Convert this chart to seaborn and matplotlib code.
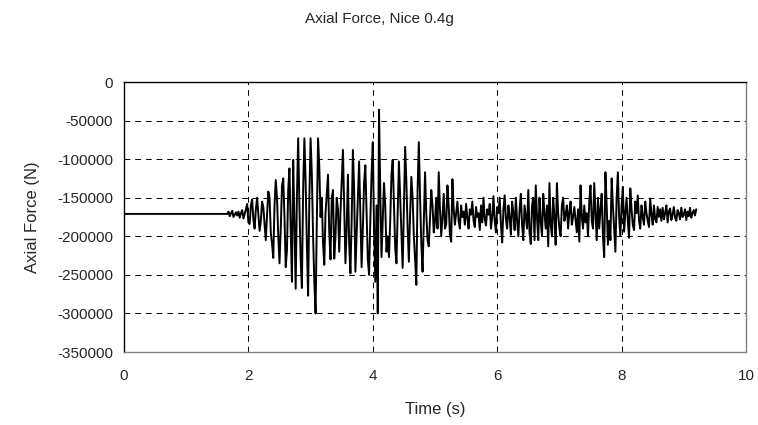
import numpy as np
import pandas as pd
import matplotlib
matplotlib.use("Agg")
import matplotlib.pyplot as plt
import seaborn as sns

# ---- data ----
title = "Axial Force, Nice 0.4g"
x_label = "Time (s)"
y_label = "Axial Force (N)"
x_ticks = [0, 2, 4, 6, 8, 10]
y_ticks = [0, -50000, -100000, -150000, -200000, -250000, -300000, -350000]

# initial static segment (before shaking starts)
static_time = [0.0, 1.66]
static_force_kN = [-171, -171]

# recorded response, sampled every 0.02 s starting at 1.66 s (values in kN)
record_start = 1.66
record_dt = 0.02
force_kN = [
    -171, -168, -174, -170, -167, -175, -172, -169, -173, -168,
    -176, -170, -166, -177, -171, -165, -158, -182, -184, -160,
    -152, -178, -190, -165, -150, -172, -193, -180, -155, -162,
    -185, -205, -172, -142, -150, -195, -210, -228, -160, -127,
    -150, -200, -235, -190, -135, -125, -175, -240, -218, -140,
    -112, -190, -259, -101, -180, -268, -150, -73, -160, -230,
    -267, -140, -73, -130, -210, -277, -150, -73, -120, -200,
    -260, -300, -180, -73, -110, -175, -150, -210, -237, -170,
    -145, -120, -195, -230, -150, -140, -229, -200, -150, -165,
    -220, -170, -130, -88, -160, -235, -190, -120, -210, -248,
    -180, -88, -140, -246, -200, -150, -103, -170, -240, -190,
    -130, -108, -170, -230, -250, -180, -120, -78, -190, -259,
    -160, -300, -36, -140, -227, -180, -131, -160, -220, -200,
    -227, -180, -120, -101, -160, -215, -235, -170, -103, -150,
    -200, -241, -160, -84, -130, -190, -233, -170, -123, -150,
    -200, -230, -263, -140, -78, -150, -210, -246, -180, -117,
    -170, -205, -213, -175, -140, -160, -195, -180, -150, -190,
    -117, -165, -200, -175, -145, -190, -185, -134, -160, -198,
    -207, -126, -165, -185, -170, -155, -180, -190, -160, -175,
    -168, -185, -158, -176, -190, -165, -172, -155, -180, -188,
    -162, -175, -170, -192, -160, -182, -150, -178, -186, -165,
    -172, -158, -190, -175, -148, -180, -195, -162, -170, -150,
    -185, -208, -165, -147, -178, -190, -160, -175, -198, -155,
    -170, -192, -150, -180, -200, -165, -145, -185, -205, -160,
    -175, -190, -140, -195, -210, -160, -150, -205, -134, -175,
    -205, -150, -180, -200, -145, -170, -190, -160, -213, -131,
    -185, -200, -150, -175, -211, -131, -170, -190, -200, -160,
    -150, -180, -172, -160, -190, -168, -155, -185, -175, -162,
    -178, -195, -165, -207, -134, -175, -190, -160, -182, -170,
    -200, -155, -134, -180, -190, -131, -170, -205, -150, -190,
    -165, -145, -200, -227, -117, -160, -211, -180, -205, -125,
    -160, -190, -220, -150, -117, -175, -200, -160, -136, -194,
    -170, -150, -180, -202, -138, -165, -185, -192, -155, -170,
    -147, -180, -190, -160, -175, -185, -155, -170, -180, -188,
    -151, -172, -185, -160, -178, -182, -162, -175, -165, -180,
    -163, -178, -170, -160, -182, -168, -164, -179, -172, -162,
    -176, -180, -166, -170, -178, -163, -175, -172, -165, -179,
    -168, -174, -163, -176, -170, -166, -173, -165,
]

# ---- build table ----
rec_time = record_start + record_dt * np.arange(len(force_kN))
time = np.concatenate([static_time, rec_time])
force = np.concatenate([static_force_kN, force_kN]) * 1000.0
df = pd.DataFrame({"time": time, "force": force})

# ---- plot ----
sns.set_style("white")
plt.rcParams["font.family"] = ["Liberation Sans", "DejaVu Sans"]

fig = plt.figure(figsize=(7.58, 4.25), dpi=100)
ax = fig.add_axes([124 / 758, 1 - 352 / 425, (746 - 124) / 758, (352 - 82) / 425])

sns.lineplot(data=df, x="time", y="force", ax=ax, color="black",
             linewidth=1.4, sort=False, estimator=None)

ax.set_xlim(0, 10)
ax.set_ylim(-350000, 0)
ax.set_xticks(x_ticks)
ax.set_yticks(y_ticks)
ax.set_xticklabels([str(v) for v in x_ticks], fontsize=11)
ax.set_yticklabels([str(v) for v in y_ticks], fontsize=11)

ax.grid(True, color="black", linestyle=(0, (6, 5)), linewidth=0.7)
ax.set_axisbelow(True)

for side in ["left", "top"]:
    ax.spines[side].set_color("black")
    ax.spines[side].set_linewidth(1.0)
for side in ["right", "bottom"]:
    ax.spines[side].set_color("#808080")
    ax.spines[side].set_linewidth(1.0)

ax.tick_params(axis="y", direction="out", length=4, width=0.8, color="black", pad=4)
ax.tick_params(axis="x", direction="in", length=4, width=0.8, color="black", pad=12)

ax.set_xlabel(x_label, fontsize=12, labelpad=14)
ax.set_ylabel(y_label, fontsize=12, labelpad=12)
fig.suptitle(title, fontsize=11, x=0.5, y=1 - 19 / 425, va="center")

fig.savefig("out.png", dpi=100)
